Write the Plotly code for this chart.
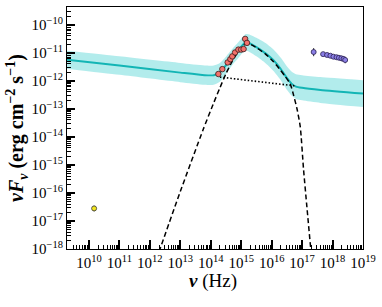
import plotly.graph_objects as go

# ---------------- data ----------------
# total model (cyan line) and its uncertainty band
nu_model = [1.9e9, 1e11, 1e13, 6.3e13, 1.26e14, 2.0e14, 3.16e14, 5.0e14, 7.9e14, 1.12e15,
            1.41e15, 2.0e15, 3.16e15, 6.3e15, 1.15e16, 2.0e16, 3.16e16, 4.5e16, 6.3e16,
            1e17, 4e17, 1e19]
f_model = [5.6e-12, 3.5e-12, 1.95e-12, 1.58e-12, 1.58e-12, 2.0e-12, 3.55e-12, 6.8e-12, 1.2e-11,
           1.9e-11, 2.35e-11, 2.1e-11, 1.58e-11, 9.5e-12, 5.4e-12, 2.6e-12, 1.26e-12, 7.9e-13,
           6.2e-13, 5.6e-13, 4.7e-13, 3.5e-13]
f_band_hi = [1.17e-11, 7.4e-12, 4.3e-12, 3.5e-12, 3.5e-12, 4.3e-12, 7.2e-12, 1.32e-11, 2.3e-11,
             3.6e-11, 4.6e-11, 4.3e-11, 3.4e-11, 2.2e-11, 1.29e-11, 6.6e-12, 3.3e-12, 2.14e-12,
             1.7e-12, 1.58e-12, 1.35e-12, 1.05e-12]
f_band_lo = [2.7e-12, 1.62e-12, 8.9e-13, 7.2e-13, 7.2e-13, 9.3e-13, 1.74e-12, 3.5e-12, 6.3e-12,
             1.0e-11, 1.2e-11, 1.02e-11, 7.4e-12, 4.2e-12, 2.24e-12, 1.05e-12, 4.8e-13, 2.95e-13,
             2.24e-13, 2.0e-13, 1.62e-13, 1.15e-13]

# thermal component (dashed)
nu_bump = [2.0e12, 1e13, 5.6e13, 1.26e14, 2.0e14, 3.16e14, 5.0e14, 7.9e14, 1.26e15, 1.78e15,
           3.16e15, 6.3e15, 1.15e16, 2.0e16, 2.8e16, 4.1e16, 5.2e16, 6.8e16, 8.7e16, 1.12e17,
           1.41e17, 2.0e17]
f_bump = [7.9e-19, 1.12e-16, 1.78e-14, 1.66e-13, 5.6e-13, 1.78e-12, 4.8e-12, 1.1e-11, 1.9e-11,
          2.1e-11, 1.51e-11, 8.9e-12, 4.8e-12, 2.3e-12, 1.41e-12, 7.6e-13, 3.2e-13, 1e-13,
          2.3e-14, 6.6e-16, 4e-17, 6.3e-19]

# power-law component (dotted)
nu_pl = [2.0e14, 5.6e16]
f_pl = [1.35e-12, 6.6e-13]

# optical / UV photometry (red)
nu_opt = [1.78e14, 2.4e14, 3.6e14, 4.4e14, 5.1e14, 6.3e14, 8.1e14, 1.0e15, 1.2e15, 1.35e15, 1.55e15]
f_opt = [1.74e-12, 2.6e-12, 4.5e-12, 5.9e-12, 7.4e-12, 1.02e-11, 1.29e-11, 1.29e-11, 1.35e-11,
         3.1e-11, 2.24e-11]

# X-ray (purple)
nu_x = [2.4e17, 4.9e17, 6.6e17, 8.5e17, 1.07e18, 1.35e18, 1.62e18, 1.95e18, 2.3e18, 2.6e18]
f_x = [1.06e-11, 8.9e-12, 8.3e-12, 7.8e-12, 7.2e-12, 6.9e-12, 6.6e-12, 6.3e-12, 6.0e-12, 5.5e-12]
f_x_err_hi = [4.0e-12, 1.0e-12, 1.0e-12, 1.0e-12, 1.1e-12, 1.2e-12, 1.3e-12, 1.4e-12, 1.5e-12, 1.6e-12]
f_x_err_lo = [3.1e-12, 0.9e-12, 0.9e-12, 0.9e-12, 1.0e-12, 1.0e-12, 1.1e-12, 1.2e-12, 1.2e-12, 1.3e-12]

# radio (yellow)
nu_radio = [1.48e10]
f_radio = [2.8e-17]
f_radio_err_hi = [0.7e-17]
f_radio_err_lo = [0.6e-17]

x_ticks = [1e10, 1e11, 1e12, 1e13, 1e14, 1e15, 1e16, 1e17, 1e18, 1e19]
x_tick_text = ["10<sup>10</sup>", "10<sup>11</sup>", "10<sup>12</sup>", "10<sup>13</sup>",
               "10<sup>14</sup>", "10<sup>15</sup>", "10<sup>16</sup>", "10<sup>17</sup>",
               "10<sup>18</sup>", "10<sup>19</sup>"]
y_ticks = [1e-18, 1e-17, 1e-16, 1e-15, 1e-14, 1e-13, 1e-12, 1e-11, 1e-10]
y_tick_text = ["10<sup>−18</sup>", "10<sup>−17</sup>", "10<sup>−16</sup>", "10<sup>−15</sup>",
               "10<sup>−14</sup>", "10<sup>−13</sup>", "10<sup>−12</sup>", "10<sup>−11</sup>",
               "10<sup>−10</sup>"]

# ---------------- figure ----------------
FONT = "Liberation Serif"
fig = go.Figure()

fig.add_trace(go.Scatter(x=nu_model, y=f_band_hi, mode="lines", line=dict(width=0, shape="spline", smoothing=0.6),
                         hoverinfo="skip", showlegend=False))
fig.add_trace(go.Scatter(x=nu_model, y=f_band_lo, mode="lines", line=dict(width=0, shape="spline", smoothing=0.6),
                         fill="tonexty", fillcolor="rgba(0,191,191,0.3)", hoverinfo="skip", showlegend=False))
fig.add_trace(go.Scatter(x=nu_model, y=f_model, mode="lines",
                         line=dict(color="#13b5b5", width=2, shape="spline", smoothing=0.6), showlegend=False))
fig.add_trace(go.Scatter(x=nu_bump, y=f_bump, mode="lines",
                         line=dict(color="black", width=1.5, dash="5px,3px", shape="spline", smoothing=0.6),
                         showlegend=False))
fig.add_trace(go.Scatter(x=nu_pl, y=f_pl, mode="lines",
                         line=dict(color="black", width=1.6, dash="1.5px,2px"), showlegend=False))

fig.add_trace(go.Scatter(x=nu_opt, y=f_opt, mode="markers",
                         marker=dict(color="#f4716b", size=5.5, line=dict(color="#3a1a1a", width=0.8)),
                         showlegend=False))
fig.add_trace(go.Scatter(x=nu_x, y=f_x, mode="markers",
                         error_y=dict(type="data", array=f_x_err_hi, arrayminus=f_x_err_lo,
                                      color="#222", thickness=1, width=0),
                         marker=dict(color="#8b7fe6", size=5, line=dict(color="#2a2050", width=0.8)),
                         showlegend=False))
fig.add_trace(go.Scatter(x=nu_radio, y=f_radio, mode="markers",
                         error_y=dict(type="data", array=f_radio_err_hi, arrayminus=f_radio_err_lo,
                                      color="#222", thickness=1, width=0),
                         marker=dict(color="#f3e61f", size=5, line=dict(color="#333", width=0.8)),
                         showlegend=False))

axis_common = dict(type="log", showgrid=False, zeroline=False, showline=True, linecolor="black",
                   linewidth=1.2, mirror=True, ticks="inside", tickcolor="black", tickwidth=1.5,
                   tickfont=dict(family=FONT, size=15, color="black"))
fig.update_xaxes(**axis_common, range=[9.28, 19.0], tickvals=x_ticks, ticktext=x_tick_text, ticklen=9,
                 minor=dict(ticks="inside", ticklen=4, tickwidth=1, tickcolor="black", dtick="D1"))
fig.update_yaxes(**axis_common, range=[-18.0, -9.37], tickvals=y_ticks, ticktext=y_tick_text, ticklen=8,
                 minor=dict(ticks="inside", ticklen=4, tickwidth=1, tickcolor="black", dtick="D1"))

fig.update_layout(
    width=382, height=307,
    margin=dict(l=67, r=19, t=7, b=58),
    paper_bgcolor="white", plot_bgcolor="white",
    font=dict(family=FONT, color="black"),
    annotations=[
        dict(text="<b><i>ν</i></b> (Hz)", xref="paper", yref="paper", x=(213 - 67) / 296, y=-(281 - 249) / 242,
             xanchor="center", yanchor="middle", showarrow=False, font=dict(family=FONT, size=19, color="black")),
        dict(text="<b><i>νF</i><sub><i>ν</i></sub> (erg cm<sup>−2</sup> s<sup>−1</sup>)</b>", xref="paper",
             yref="paper", x=-(67 - 17) / 296, y=(249 - 128) / 242, textangle=-90,
             xanchor="center", yanchor="middle", showarrow=False, font=dict(family=FONT, size=20, color="black")),
    ],
)

fig.write_html("out.html", config={"displayModeBar": False},
               post_script="document.body.style.margin='0';document.body.style.padding='0';")
